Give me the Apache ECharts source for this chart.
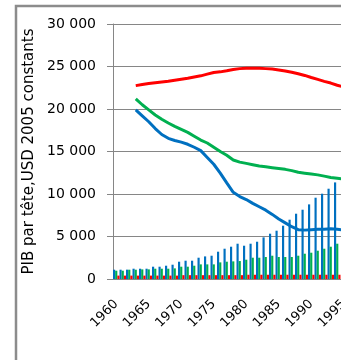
<!DOCTYPE html>
<html>
<head>
<meta charset="utf-8">
<script src="https://cdn.jsdelivr.net/npm/echarts@6/dist/echarts.min.js"></script>
<style>
  html, body { margin: 0; padding: 0; background: #fff; }
  #chart { width: 341px; height: 360px; }
</style>
</head>
<body>
<div id="chart"></div>
<script>
// years shown on the category axis
const years = [];
for (let y = 1960; y <= 1995; y++) years.push(String(y));

const yTicks = [0, 5000, 10000, 15000, 20000, 25000, 30000];

// bars
const barBlue = [1094, 1094, 1100, 1211, 1211, 1211, 1447, 1447, 1564, 1682,
  2035, 2152, 2152, 2505, 2658, 2740, 3211, 3563, 3799, 4151,
  3916, 4151, 4386, 4900, 5329, 5682, 6270, 6976, 7681, 8151,
  8778, 9564, 10034, 10622, 11364, null];
const barGreen = [976, 976, 1094, 1094, 1133, 1133, 1211, 1211, 1211, 1250,
  1447, 1447, 1564, 1721, 1721, 1721, 1956, 2035, 2074, 2113,
  2270, 2505, 2505, 2587, 2740, 2587, 2587, 2587, 2740, 2975,
  3093, 3328, 3563, 3799, 4151, null];
const barRed = [400, 400, 400, 400, 400, 400, 400, 400, 400, 400,
  450, 450, 450, 450, 450, 450, 450, 450, 450, 450,
  500, 500, 500, 500, 500, 500, 500, 500, 500, 500,
  500, 500, 500, 500, 500, null];

// lines (start in 1963)
const lineRed = [null, null, null, 22750, 22880, 23000, 23100, 23180, 23260, 23380,
  23500, 23620, 23760, 23900, 24100, 24300, 24370, 24500, 24650, 24750,
  24780, 24780, 24780, 24750, 24700, 24600, 24480, 24330, 24150, 23950,
  23700, 23480, 23250, 23050, 22800, 22600];
const lineGreen = [null, null, null, 21200, 20500, 19900, 19300, 18800, 18350, 17950,
  17600, 17250, 16800, 16350, 16000, 15500, 15000, 14550, 14000, 13750,
  13600, 13450, 13300, 13200, 13100, 13000, 12900, 12750, 12550, 12450,
  12350, 12250, 12100, 11950, 11850, 11750];
const lineBlue = [null, null, null, 19900, 19200, 18500, 17700, 17000, 16550, 16300,
  16100, 15850, 15500, 15100, 14300, 13500, 12450, 11300, 10200, 9700,
  9350, 8900, 8500, 8100, 7600, 7050, 6600, 6150, 5800, 5750,
  5800, 5850, 5850, 5900, 5850, 5750];

const BLUE = '#0070C0', GREEN = '#00B050', RED = '#FF0000', GREY = '#868686';
const FONT = 'DejaVu Sans';

function fmt(v) {
  return String(v).replace(/\B(?=(\d{3})+(?!\d))/g, ' ');
}

const chart = echarts.init(document.getElementById('chart'));

function bar(data, color) {
  return {
    type: 'bar', data: data, barGap: '0%', barCategoryGap: '0%',
    itemStyle: { color: color }, silent: true
  };
}
function line(data, color) {
  return {
    type: 'line', data: data, symbol: 'none', z: 5,
    lineStyle: { color: color, width: 3 }, silent: true
  };
}

chart.setOption({
  animation: false,
  // plot runs past the right edge of the window, like the cropped original
  grid: { left: 113, top: 24, height: 255, width: 234, outerBoundsMode: 'none' },
  graphic: [{
    type: 'rect',
    shape: { x: 16, y: 6, width: 400, height: 400 },
    style: { fill: 'none', stroke: '#8c8c8c', lineWidth: 2.5 },
    silent: true
  }],
  xAxis: {
    type: 'category',
    data: years,
    boundaryGap: true,
    axisLine: { lineStyle: { color: GREY } },
    axisTick: { interval: 0, length: 5, lineStyle: { color: GREY } },
    axisLabel: {
      interval: 4, rotate: 45, margin: 23, hideOverlap: false,
      color: '#000', fontFamily: FONT, fontSize: 13
    }
  },
  yAxis: {
    type: 'value',
    min: yTicks[0],
    max: yTicks[yTicks.length - 1],
    interval: 5000,
    name: 'PIB par tête,USD 2005 constants',
    nameLocation: 'middle',
    nameGap: 69,
    nameTextStyle: { color: '#000', fontFamily: FONT, fontSize: 15 },
    axisLine: { show: true, lineStyle: { color: GREY } },
    axisTick: { show: true, length: 6, lineStyle: { color: GREY } },
    axisLabel: { margin: 17, color: '#000', fontFamily: FONT, fontSize: 14, formatter: fmt },
    splitLine: { lineStyle: { color: GREY } }
  },
  series: [
    bar(barBlue, BLUE),
    bar(barGreen, GREEN),
    bar(barRed, RED),
    line(lineRed, RED),
    line(lineGreen, GREEN),
    line(lineBlue, BLUE)
  ]
});
</script>
</body>
</html>
